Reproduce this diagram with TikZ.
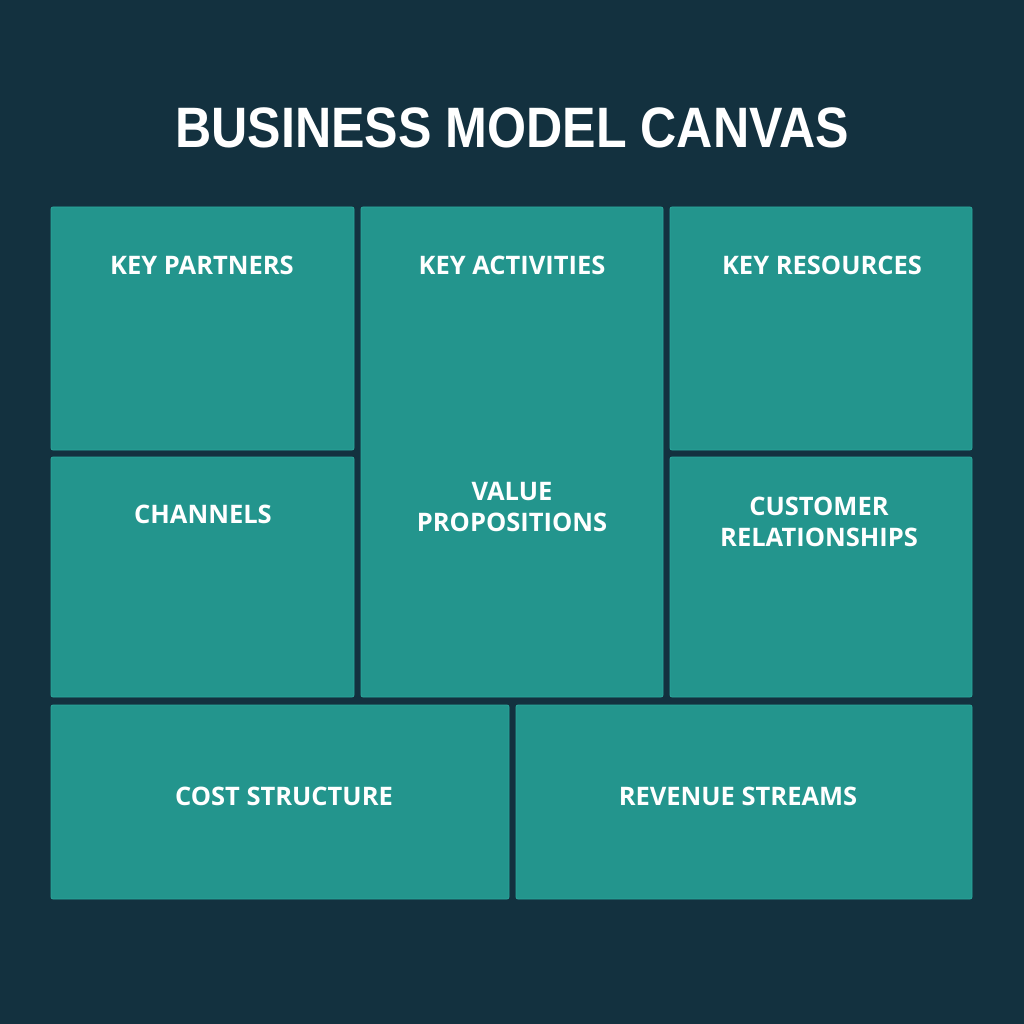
\documentclass[tikz,border=0pt]{standalone}
\usepackage{fontspec}
\setmainfont{Open Sans}
\newfontfamily\titlefont[FakeStretch=0.88]{Liberation Sans}
\usetikzlibrary{positioning}

\definecolor{canvasbg}{HTML}{13313F}
\definecolor{cellfill}{HTML}{23958D}
\definecolor{celledge}{HTML}{2BA89D}

\begin{document}
\begin{tikzpicture}[x=1pt, y=-1pt,
  cell/.style={draw=celledge, line width=0.8pt, fill=cellfill, rounded corners=2pt, inner sep=0pt, outer sep=0pt},
  head/.style={text=white, font=\fontsize{25.5}{31}\selectfont\bfseries, align=center, inner sep=0pt}
]
\fill[canvasbg] (0,0) rectangle (1024,1024);
\useasboundingbox (0,0) rectangle (1024,1024);

\node[text=white, font=\titlefont\fontsize{57}{60}\selectfont\bfseries] (title) at (512,128) {BUSINESS MODEL CANVAS};

% top block
\node[cell, minimum width=303pt, minimum height=243pt] (partners) at (202.5,328.5) {};
\node[cell, minimum width=302pt, minimum height=490pt] (activities) at (512,452) {};
\node[cell, minimum width=302pt, minimum height=243pt] (resources) at (821,328.5) {};
\node[cell, minimum width=303pt, minimum height=240pt] (channels) at (202.5,577) {};
\node[cell, minimum width=302pt, minimum height=240pt] (relations) at (821,577) {};

% bottom block
\node[cell, minimum width=458pt, minimum height=194pt] (cost) at (280,802) {};
\node[cell, minimum width=456pt, minimum height=194pt] (revenue) at (744,802) {};

\node[head] (partnerslbl) at (202,265) {KEY PARTNERS};
\node[head] (activitieslbl) at (512,265) {KEY ACTIVITIES};
\node[head] (resourceslbl) at (822,265) {KEY RESOURCES};
\node[head] (channelslbl) at (203,514) {CHANNELS};
\node[head] (valuelbl) at (512,507) {VALUE\\PROPOSITIONS};
\node[head] (relationslbl) at (819,522) {CUSTOMER\\RELATIONSHIPS};
\node[head] (costlbl) at (284,796) {COST STRUCTURE};
\node[head] (revenuelbl) at (738,796) {REVENUE STREAMS};
\end{tikzpicture}
\end{document}
